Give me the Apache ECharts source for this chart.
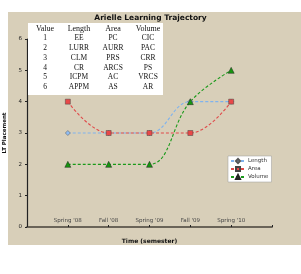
<!DOCTYPE html>
<html>
<head>
<meta charset="utf-8">
<script src="https://cdn.jsdelivr.net/npm/echarts@6/dist/echarts.min.js"></script>
<style>
  html, body { margin: 0; padding: 0; background: #fff; }
  #chart { width: 301px; height: 274px; }
</style>
</head>
<body>
<div id="chart"></div>
<script>
'use strict';
var semesters = ['Spring \'08', 'Fall \'08', 'Spring \'09', 'Fall \'09', 'Spring \'10'];
var semesterPos = [1, 2, 3, 4, 5];
var lengthVals = [3, 3, 3, 4, 4];
var areaVals = [4, 3, 3, 3, 4];
var volumeVals = [2, 2, 2, 4, 5];

var tableHead = ['Value', 'Length', 'Area', 'Volume'];
var tableValue = ['1', '2', '3', '4', '5', '6'];
var tableLength = ['EE', 'LURR', 'CLM', 'CR', 'ICPM', 'APPM'];
var tableArea = ['PC', 'AURR', 'PRS', 'ARCS', 'AC', 'AS'];
var tableVolume = ['CIC', 'PAC', 'CRR', 'PS', 'VRCS', 'AR'];

function pairs(vals) {
    var out = [];
    for (var i = 0; i < vals.length; i++) {
        out.push([semesterPos[i], vals[i]]);
    }
    return out;
}

// the little lookup table drawn in the upper-left corner
function buildTable() {
    var cols = [tableValue, tableLength, tableArea, tableVolume];
    var colX = [45, 79, 113, 148];
    var children = [{
        type: 'rect',
        z: 5,
        shape: { x: 28, y: 23, width: 135, height: 72 },
        style: { fill: '#ffffff' }
    }];
    for (var c = 0; c < cols.length; c++) {
        children.push({
            type: 'text',
            z: 6,
            x: colX[c], y: 28.5,
            style: { text: tableHead[c], fill: '#111', font: '8px "Liberation Serif"', align: 'center', verticalAlign: 'middle' }
        });
        for (var r = 0; r < cols[c].length; r++) {
            children.push({
                type: 'text',
                z: 6,
                x: colX[c], y: 38.5 + r * 9.7,
                style: { text: cols[c][r], fill: '#111', font: '7.5px "Liberation Serif"', align: 'center', verticalAlign: 'middle' }
            });
        }
    }
    return children;
}

var chart = echarts.init(document.getElementById('chart'), null, { renderer: 'canvas' });

var graphics = [{
    type: 'rect',
    z: -10,
    shape: { x: 8, y: 12, width: 293, height: 233 },
    style: { fill: '#d8cfb9' }
}].concat(buildTable());

var option = {
    animation: false,
    backgroundColor: '#ffffff',
    title: {
        text: 'Arielle Learning Trajectory',
        left: 'center',
        top: 9,
        textStyle: { fontFamily: 'DejaVu Sans', fontSize: 7.5, fontWeight: 'bold', color: '#111' }
    },
    graphic: graphics,
    legend: {
        data: ['Length', 'Area', 'Volume'],
        orient: 'vertical',
        left: 228,
        top: 156,
        itemWidth: 14,
        itemHeight: 5,
        itemGap: 2,
        padding: [2, 3, 2, 2],
        backgroundColor: '#ffffff',
        borderColor: '#999',
        borderWidth: 0.5,
        textStyle: { fontFamily: 'DejaVu Sans', fontSize: 5.5, color: '#333', padding: [0, 0, 0, -2] }
    },
    grid: {
        left: 27,
        right: 29,
        top: 39,
        bottom: 47,
        outerBoundsMode: 'none',
        containLabel: false
    },
    xAxis: {
        type: 'value',
        min: 0,
        max: 6,
        interval: 1,
        name: 'Time (semester)',
        nameLocation: 'middle',
        nameGap: 11,
        nameTextStyle: { fontFamily: 'DejaVu Sans', fontSize: 6, fontWeight: 'bold', color: '#111' },
        axisLine: { lineStyle: { color: '#6a6458', width: 1.8 } },
        axisTick: { show: true, length: 2, inside: true, lineStyle: { color: '#222' } },
        splitLine: { show: false },
        axisLabel: {
            inside: true,
            margin: 3,
            fontFamily: 'DejaVu Sans',
            fontSize: 5.5,
            color: '#444',
            formatter: function (v) {
                var i = semesterPos.indexOf(v);
                return i >= 0 ? semesters[i] : '';
            }
        }
    },
    yAxis: {
        type: 'value',
        min: 0,
        max: 6,
        interval: 1,
        name: 'LT Placement',
        nameLocation: 'middle',
        nameGap: 11,
        nameTextStyle: { fontFamily: 'DejaVu Sans', fontSize: 5.5, fontWeight: 'bold', color: '#111' },
        axisLine: { show: true, lineStyle: { color: '#222', width: 1.2 } },
        axisTick: { show: true, length: 2, lineStyle: { color: '#222' } },
        splitLine: { show: false },
        axisLabel: { fontFamily: 'DejaVu Sans', fontSize: 5.5, color: '#222', margin: 5 }
    },
    series: [
        {
            name: 'Length',
            type: 'line',
            smooth: 0.4,
            data: pairs(lengthVals),
            symbol: 'diamond',
            symbolSize: 5,
            lineStyle: { color: '#7fb3ee', width: 1.1, type: [3, 2] },
            itemStyle: { color: '#8fbcf2', borderColor: '#555', borderWidth: 0.5 }
        },
        {
            name: 'Area',
            type: 'line',
            smooth: 0.4,
            data: pairs(areaVals),
            symbol: 'rect',
            symbolSize: 5,
            lineStyle: { color: '#e04a4a', width: 1.1, type: [3, 2] },
            itemStyle: { color: '#e84848', borderColor: '#444', borderWidth: 0.5 }
        },
        {
            name: 'Volume',
            type: 'line',
            smooth: 0.4,
            data: pairs(volumeVals),
            symbol: 'triangle',
            symbolSize: 6,
            lineStyle: { color: '#1a9a1a', width: 1.1, type: [3, 2] },
            itemStyle: { color: '#16960f', borderColor: '#222', borderWidth: 0.5 }
        }
    ]
};
chart.setOption(option);
</script>
</body>
</html>
